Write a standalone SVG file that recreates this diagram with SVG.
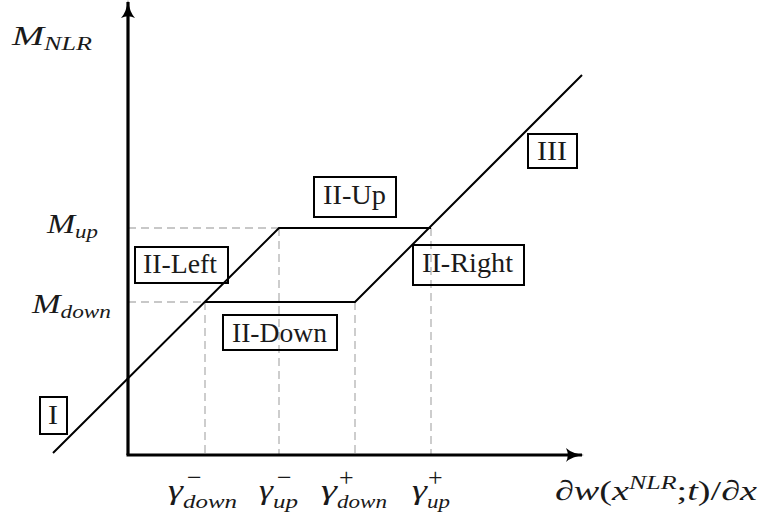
<svg xmlns="http://www.w3.org/2000/svg" width="761" height="516" viewBox="0 0 761 516">
<defs>
<style>
.ax{stroke:#000;stroke-width:3.2;fill:none}
.ln{stroke:#000;stroke-width:2;fill:none}
.dash{stroke:#c8c8c8;stroke-width:1.8;stroke-dasharray:8 5;fill:none}
.box{stroke:#000;stroke-width:2;fill:none}
.lbl{font-family:"Liberation Serif",serif;font-size:27px;fill:#1a1a1a}
.m{font-family:"Liberation Serif",serif;font-style:italic;font-size:28px;fill:#1a1a1a}
.s{font-size:19px}
.up{font-style:normal}
.sup{font-family:"Liberation Serif",serif;font-size:26px;fill:#1a1a1a}
</style>
<marker id="arr" viewBox="0 0 18 14" refX="16" refY="7" markerWidth="18" markerHeight="14" markerUnits="userSpaceOnUse" orient="auto">
<path d="M0,0 Q6,5.5 18,7 Q6,8.5 0,14 Q3.5,7 0,0 Z" fill="#000"/>
</marker>
</defs>
<g id="guides">
<line class="dash" x1="128" y1="228" x2="279" y2="228"/>
<line class="dash" x1="128" y1="302" x2="205" y2="302"/>
<line class="dash" x1="205" y1="302" x2="205" y2="455"/>
<line class="dash" x1="279" y1="228" x2="279" y2="455"/>
<line class="dash" x1="355" y1="302" x2="355" y2="455"/>
<line class="dash" x1="431" y1="228" x2="431" y2="455"/>
</g>
<g id="connectors">
<line class="ax" x1="128" y1="455" x2="128" y2="2" marker-end="url(#arr)"/>
<line class="ax" x1="126.5" y1="455" x2="582" y2="455" marker-end="url(#arr)"/>
<polyline class="ln" points="53,453 279,228 431,228"/>
<polyline class="ln" points="205,302 355,302 582,75"/>
</g>
<g id="node-I"><rect class="box" x="40" y="397" width="27" height="37"/><text class="lbl" x="48" y="424" textLength="10" lengthAdjust="spacingAndGlyphs">I</text></g>
<g id="node-II-Left"><rect class="box" x="135" y="247" width="93" height="36"/><text class="lbl" x="143" y="273" textLength="74" lengthAdjust="spacingAndGlyphs">II-Left</text></g>
<g id="node-II-Up"><rect class="box" x="314" y="177" width="82" height="40"/><text class="lbl" x="323" y="204" textLength="63" lengthAdjust="spacingAndGlyphs">II-Up</text></g>
<g id="node-II-Right"><rect class="box" x="413" y="245" width="111" height="40"/><text class="lbl" x="422" y="272" textLength="91" lengthAdjust="spacingAndGlyphs">II-Right</text></g>
<g id="node-II-Down"><rect class="box" x="223" y="315" width="114" height="35"/><text class="lbl" x="232" y="342" textLength="95" lengthAdjust="spacingAndGlyphs">II-Down</text></g>
<g id="node-III"><rect class="box" x="528" y="134" width="49" height="34"/><text class="lbl" x="537" y="160" textLength="30" lengthAdjust="spacingAndGlyphs">III</text></g>
<g id="axis-labels">
<text class="m" x="12" y="45" textLength="80" lengthAdjust="spacingAndGlyphs">M<tspan class="s" dy="5">NLR</tspan></text>
<text class="m" x="47" y="233" textLength="51" lengthAdjust="spacingAndGlyphs">M<tspan class="s" dy="5">up</tspan></text>
<text class="m" x="32" y="313" textLength="79" lengthAdjust="spacingAndGlyphs">M<tspan class="s" dy="5">down</tspan></text>
<text class="m" x="168" y="499"><tspan textLength="15" lengthAdjust="spacingAndGlyphs">γ</tspan><tspan class="s" x="183" y="508" textLength="54" lengthAdjust="spacingAndGlyphs">down</tspan></text>
<text class="sup" x="187" y="486">−</text>
<text class="m" x="259" y="499"><tspan textLength="14" lengthAdjust="spacingAndGlyphs">γ</tspan><tspan class="s" x="273" y="508" textLength="25" lengthAdjust="spacingAndGlyphs">up</tspan></text>
<text class="sup" x="277" y="486">−</text>
<text class="m" x="321" y="499"><tspan textLength="16" lengthAdjust="spacingAndGlyphs">γ</tspan><tspan class="s" x="337" y="508" textLength="50" lengthAdjust="spacingAndGlyphs">down</tspan></text>
<text class="sup" x="339" y="486">+</text>
<text class="m" x="412" y="499"><tspan textLength="15" lengthAdjust="spacingAndGlyphs">γ</tspan><tspan class="s" x="427" y="508" textLength="23" lengthAdjust="spacingAndGlyphs">up</tspan></text>
<text class="sup" x="428" y="486">+</text>
<text class="m" x="555" y="500" textLength="202" lengthAdjust="spacingAndGlyphs">∂w<tspan class="up">(</tspan>x<tspan class="s" dy="-11">NLR</tspan><tspan class="up" dy="11">;</tspan>t<tspan class="up">)/</tspan>∂x</text>
</g>
</svg>
